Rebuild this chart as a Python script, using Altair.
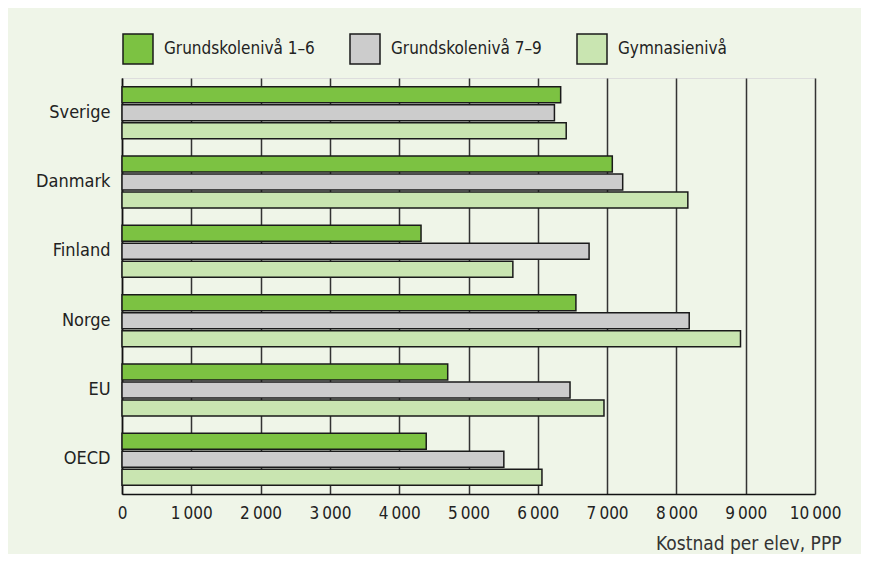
import altair as alt
import pandas as pd

countries = ["Sverige", "Danmark", "Finland", "Norge", "EU", "OECD"]
series = ["Grundskolenivå 1–6", "Grundskolenivå 7–9", "Gymnasienivå"]
g16 = [6330, 7075, 4315, 6550, 4700, 4390]
g79 = [6240, 7225, 6740, 8185, 6465, 5510]
gym = [6410, 8165, 5640, 8925, 6955, 6060]
colors = ["#7cc242", "#cccccc", "#c9e5b1"]

rows = []
for i, c in enumerate(countries):
    for s, vals in zip(series, [g16, g79, gym]):
        rows.append({"land": c, "niva": s, "kostnad": vals[i]})
df = pd.DataFrame(rows)

FONT = "DejaVu Sans Condensed, sans-serif"

chart = alt.Chart(df).mark_bar(stroke="#1a1a1a", strokeWidth=1.5).encode(
    y=alt.Y("land:N", sort=countries, title=None,
            scale=alt.Scale(paddingInner=0.25, paddingOuter=0.125),
            axis=alt.Axis(ticks=False, labelPadding=12, labelFontSize=18,
                          domainColor="#111", domainWidth=1.5)),
    yOffset=alt.YOffset("niva:N", sort=series,
                        scale=alt.Scale(paddingInner=0.11, paddingOuter=0)),
    x=alt.X("kostnad:Q", title="Kostnad per elev, PPP",
            scale=alt.Scale(domain=[0, 10000], nice=False),
            axis=alt.Axis(values=list(range(0, 10001, 1000)), ticks=False,
                          labelOverlap=False, labelFlush=False,
                          labelPadding=11, labelFontSize=17,
                          labelExpr="replace(format(datum.value, ','), ',', '\u202f')",
                          grid=True, gridColor="#333333", gridWidth=1.5,
                          domainColor="#111", domainWidth=1.5,
                          titleX=719, titleAlign="right",
                          titleFontSize=19, titleFontWeight="normal",
                          titlePadding=13, titleColor="#333")),
    color=alt.Color("niva:N", sort=series,
                    scale=alt.Scale(domain=series, range=colors),
                    legend=alt.Legend(title=None, orient="none", direction="horizontal",
                                      legendX=0, legendY=-45, padding=0,
                                      symbolType="square", symbolSize=900,
                                      symbolStrokeColor="#1a1a1a", symbolStrokeWidth=1.5,
                                      symbolOpacity=1, labelFontSize=17, labelOffset=10,
                                      columnPadding=32, labelLimit=300)),
).properties(
    width=693, height=416,
    autosize=alt.AutoSizeParams(type="none"),
    padding={"left": 114, "top": 70, "right": 46, "bottom": 60},
    background="#eff5e8",
).configure_view(stroke=None).configure(
    font=FONT
).configure_axis(labelColor="#222", labelFont=FONT, titleFont=FONT).configure_legend(
    labelColor="#222", labelFont=FONT)

chart.save("out.html", embed_options={"renderer": "svg", "actions": False})
